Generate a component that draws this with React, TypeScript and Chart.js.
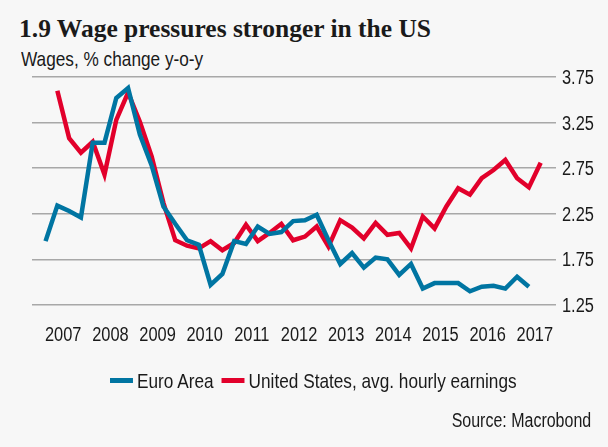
import React, { useEffect, useRef } from "react";
import { Chart, registerables } from "chart.js";

Chart.register(...registerables);

// Quarterly data, index 0 = 2007 Q1
const years = ["2007", "2008", "2009", "2010", "2011", "2012", "2013", "2014", "2015", "2016", "2017"];
const yTicks = [1.25, 1.75, 2.25, 2.75, 3.25, 3.75];

const euroArea = [
  1.95, 2.34, 2.28, 2.21, 3.03, 3.03, 3.52, 3.63, 3.12, 2.78, 2.33, 2.14,
  1.96, 1.91, 1.47, 1.59, 1.95, 1.92, 2.11, 2.03, 2.05, 2.17, 2.18, 2.24,
  1.96, 1.70, 1.82, 1.66, 1.77, 1.75, 1.58, 1.70, 1.43, 1.49, 1.49, 1.49,
  1.40, 1.45, 1.46, 1.43, 1.56, 1.45,
];
const euroStart = 0;

const unitedStates = [
  3.60, 3.08, 2.92, 3.04, 2.68, 3.28, 3.58, 3.26, 2.88, 2.37, 1.96, 1.90,
  1.87, 1.95, 1.85, 1.93, 2.13, 1.95, 2.04, 2.14, 1.96, 2.00, 2.11, 1.89,
  2.18, 2.10, 1.98, 2.15, 2.02, 2.04, 1.87, 2.22, 2.09, 2.33, 2.53, 2.46,
  2.64, 2.73, 2.84, 2.64, 2.54, 2.81,
];
const usStart = 1;

const BLUE = "#0075a2";
const RED = "#e2002b";
const TEXT = "#1a1a1a";
const SANS = '"Liberation Sans", Arial, sans-serif';
const SQUEEZE = 0.82;

// Draws tick labels in a condensed style (horizontally squeezed sans)
const condensedTicks = {
  id: "condensedTicks",
  afterDraw(chart: any) {
    const ctx = chart.ctx as CanvasRenderingContext2D;
    const xs = chart.scales.x;
    const ys = chart.scales.y;
    const draw = (s: string, x: number, y: number, align: CanvasTextAlign) => {
      ctx.save();
      ctx.translate(x, y);
      ctx.scale(SQUEEZE, 1);
      ctx.textAlign = align;
      ctx.fillText(s, 0, 0);
      ctx.restore();
    };
    ctx.save();
    ctx.fillStyle = TEXT;
    ctx.font = `20px ${SANS}`;
    ctx.textBaseline = "alphabetic";
    xs.ticks.forEach((t: any, k: number) => {
      draw(years[k], xs.getPixelForValue(t.value), xs.top + 36, "center");
    });
    ys.ticks.forEach((t: any) => {
      draw(Number(t.value).toFixed(2), ys.left + 6, ys.getPixelForValue(t.value) + 7, "left");
    });
    ctx.restore();
  },
};

export default function App() {
  const ref = useRef<HTMLCanvasElement>(null);

  useEffect(() => {
    const chart = new Chart(ref.current!, {
      type: "line",
      data: {
        datasets: [
          {
            label: "Euro Area",
            data: euroArea.map((v, i) => ({ x: i + euroStart, y: v })),
            borderColor: BLUE,
            backgroundColor: BLUE,
            borderWidth: 4.5,
            pointRadius: 0,
            tension: 0,
          },
          {
            label: "United States, avg. hourly earnings",
            data: unitedStates.map((v, i) => ({ x: i + usStart, y: v })),
            borderColor: RED,
            backgroundColor: RED,
            borderWidth: 4.5,
            pointRadius: 0,
            tension: 0,
          },
        ],
      },
      options: {
        animation: false,
        responsive: false,
        devicePixelRatio: 1,
        layout: { padding: { left: 32, top: 77, right: 0, bottom: 102 } },
        plugins: { legend: { display: false }, tooltip: { enabled: false } },
        scales: {
          x: {
            type: "linear",
            min: -1.15,
            max: 43.3,
            grid: { display: false, drawTicks: false },
            border: { display: false },
            afterBuildTicks: (scale: any) => {
              scale.ticks = years.map((_, k) => ({ value: 1.5 + 4 * k }));
            },
            afterFit: (scale: any) => {
              scale.height = 40;
            },
            ticks: { display: false },
          },
          y: {
            position: "right",
            min: 1.25,
            max: 3.75,
            grid: { color: "#a8a8a8", lineWidth: 1.5, drawTicks: false },
            border: { display: false },
            afterBuildTicks: (scale: any) => {
              scale.ticks = yTicks.map((v) => ({ value: v }));
            },
            afterFit: (scale: any) => {
              scale.width = 52;
            },
            ticks: { display: false },
          },
        },
      },
      plugins: [condensedTicks],
    } as any);
    return () => chart.destroy();
  }, []);

  const swatch = (color: string) => (
    <span
      style={{
        display: "inline-block",
        width: 23 / SQUEEZE,
        height: 5,
        background: color,
        marginRight: 4 / SQUEEZE,
        verticalAlign: "middle",
        position: "relative",
        top: -2,
      }}
    />
  );

  return (
    <div style={{ position: "fixed", left: 0, top: 0, width: 608, height: 447, background: "#f7f7f7", overflow: "hidden" }}>
      <div style={{ position: "absolute", left: 19, top: 16, font: 'bold 25.5px/25px "Liberation Serif", serif', color: TEXT, whiteSpace: "nowrap" }}>
        1.9 Wage pressures stronger in the US
      </div>
      <div
        style={{
          position: "absolute",
          left: 21,
          top: 48,
          font: `21px/21px ${SANS}`,
          color: TEXT,
          whiteSpace: "nowrap",
          transform: `scaleX(${SQUEEZE})`,
          transformOrigin: "left top",
        }}
      >
        Wages, % change y-o-y
      </div>
      <canvas ref={ref} width={608} height={447} style={{ position: "absolute", left: 0, top: 0, width: 608, height: 447 }} />
      <div
        style={{
          position: "absolute",
          left: 110,
          top: 370,
          font: `21px/21px ${SANS}`,
          color: TEXT,
          whiteSpace: "nowrap",
          transform: `scaleX(${SQUEEZE})`,
          transformOrigin: "left top",
        }}
      >
        {swatch(BLUE)}
        <span style={{ marginRight: 8 / SQUEEZE }}>Euro Area</span>
        {swatch(RED)}
        <span>United States, avg. hourly earnings</span>
      </div>
      <div
        style={{
          position: "absolute",
          right: 17,
          top: 411,
          font: `19.5px/19.5px ${SANS}`,
          color: TEXT,
          whiteSpace: "nowrap",
          transform: `scaleX(${SQUEEZE})`,
          transformOrigin: "right top",
        }}
      >
        Source: Macrobond
      </div>
    </div>
  );
}
